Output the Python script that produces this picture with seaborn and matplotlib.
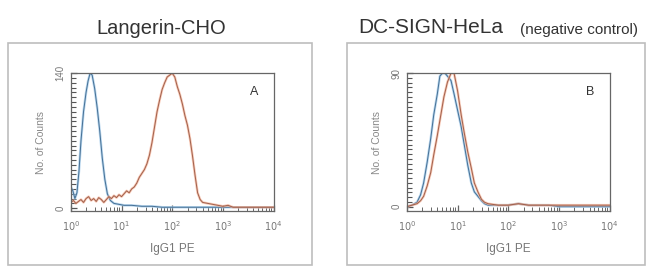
import numpy as np
import pandas as pd
import matplotlib
matplotlib.use("Agg")
import matplotlib.pyplot as plt
import matplotlib.ticker as mticker
from matplotlib.patches import Rectangle
import seaborn as sns

# histogram values, x in log10 decades of IgG1 PE
a_blue_x = [0.0, 0.04, 0.08, 0.12, 0.16, 0.2, 0.25, 0.3, 0.34, 0.38, 0.42, 0.47, 0.52,
            0.57, 0.62, 0.67, 0.72, 0.78, 0.85, 0.95, 1.05, 1.2, 1.4, 1.6, 1.8, 2.0,
            2.5, 3.0, 3.5, 4.0]
a_blue_y = [22, 18, 10, 16, 38, 70, 100, 120, 132, 140, 138, 124, 104,
            80, 52, 30, 15, 8, 5, 4, 3, 3, 2, 2, 1, 1,
            1, 1, 1, 1]
a_red_x = [0.0, 0.05, 0.1, 0.15, 0.2, 0.25, 0.3, 0.35, 0.4, 0.45, 0.5, 0.55, 0.6, 0.65,
           0.7, 0.75, 0.8, 0.85, 0.9, 0.95, 1.0, 1.05, 1.1, 1.15, 1.2, 1.25, 1.3, 1.35,
           1.4, 1.45, 1.5, 1.55, 1.6, 1.65, 1.7, 1.75, 1.8, 1.85, 1.9, 1.95, 2.0, 2.05,
           2.1, 2.15, 2.2, 2.25, 2.3, 2.35, 2.4, 2.45, 2.5, 2.55, 2.6, 2.7, 2.8, 2.9,
           3.0, 3.1, 3.2, 3.4, 3.6, 3.8, 4.0]
a_red_y = [6, 8, 5, 7, 9, 6, 10, 12, 8, 10, 7, 11, 9, 6,
           9, 12, 10, 13, 11, 14, 12, 15, 18, 16, 20, 22, 26, 32,
           36, 40, 46, 55, 68, 84, 100, 112, 123, 130, 136, 138, 140, 136,
           126, 118, 108, 96, 86, 72, 54, 34, 16, 9, 6, 5, 4, 3,
           2, 3, 1, 1, 1, 1, 1]

b_blue_x = [0.0, 0.1, 0.2, 0.27, 0.33, 0.4, 0.47, 0.53, 0.6, 0.65, 0.7, 0.75, 0.8, 0.87,
            0.93, 1.0, 1.07, 1.13, 1.2, 1.27, 1.33, 1.4, 1.47, 1.53, 1.6, 1.8, 2.0, 2.2,
            2.4, 2.6, 2.8, 3.0, 3.5, 4.0]
b_blue_y = [0, 1, 3, 8, 16, 30, 46, 62, 76, 88, 90, 90, 88, 85,
            76, 65, 54, 42, 28, 16, 10, 7, 4, 2, 1, 1, 1, 2,
            1, 1, 1, 0, 0, 0]
b_red_x = [0.0, 0.1, 0.2, 0.27, 0.33, 0.4, 0.47, 0.53, 0.6, 0.67, 0.73, 0.8, 0.87, 0.93,
           1.0, 1.07, 1.13, 1.2, 1.27, 1.33, 1.4, 1.47, 1.53, 1.6, 1.8, 2.0, 2.2, 2.4,
           2.6, 2.8, 3.0, 3.5, 4.0]
b_red_y = [0, 1, 2, 4, 7, 14, 23, 35, 48, 62, 74, 84, 90, 90,
           78, 62, 50, 37, 26, 16, 10, 5, 3, 2, 1, 1, 2, 1,
           1, 1, 1, 1, 1]

panels = [
    {"label": "A", "ymax": 140, "blue": (a_blue_x, a_blue_y), "red": (a_red_x, a_red_y),
     "ax_rect": [0.109, 0.221, 0.312, 0.509], "box": [0.012, 0.022, 0.468, 0.819]},
    {"label": "B", "ymax": 90, "blue": (b_blue_x, b_blue_y), "red": (b_red_x, b_red_y),
     "ax_rect": [0.626, 0.221, 0.312, 0.509], "box": [0.534, 0.022, 0.458, 0.819]},
]

grey = "#666666"
sns.set_style("white", {
    "xtick.bottom": True, "ytick.left": True,
    "xtick.direction": "in", "ytick.direction": "in",
    "xtick.color": grey, "ytick.color": grey,
})
plt.rcParams["font.family"] = ["Liberation Sans", "DejaVu Sans"]
plt.rcParams.update({
    "xtick.major.size": 4, "ytick.major.size": 4,
    "xtick.minor.size": 3, "ytick.minor.size": 3,
    "xtick.minor.width": 0.7, "ytick.minor.width": 0.7,
    "xtick.major.width": 0.9, "ytick.major.width": 0.9,
})

fig = plt.figure(figsize=(6.5, 2.71), dpi=100)

for p in panels:
    fig.add_artist(Rectangle(p["box"][:2], p["box"][2], p["box"][3], transform=fig.transFigure,
                             fill=False, edgecolor="#bdbdbd", linewidth=1.2))
    ax = fig.add_axes(p["ax_rect"])
    for key, halo, core in [("blue", "#9cc6e8", "#456f94"), ("red", "#f5b196", "#a0604c")]:
        xs, ys = p[key]
        df = pd.DataFrame({"x": np.power(10.0, xs), "y": ys})
        sns.lineplot(data=df, x="x", y="y", ax=ax, color=halo, linewidth=1.8, alpha=0.7)
        sns.lineplot(data=df, x="x", y="y", ax=ax, color=core, linewidth=0.7)
    ax.set_xscale("log")
    ax.set_xlim(1, 1e4)
    ax.set_ylim(-3, p["ymax"])
    ax.set_xticks([1, 10, 100, 1000, 10000])
    ax.set_xticklabels([r"$10^{0}$", r"$10^{1}$", r"$10^{2}$", r"$10^{3}$", r"$10^{4}$"])
    ax.xaxis.set_minor_locator(mticker.LogLocator(base=10, subs=np.arange(2, 10), numticks=20))
    ax.xaxis.set_minor_formatter(mticker.NullFormatter())
    ax.set_yticks([0, p["ymax"]])
    ax.yaxis.set_minor_locator(mticker.MultipleLocator(p["ymax"] / 28))
    ax.yaxis.set_minor_formatter(mticker.NullFormatter())
    ax.tick_params(axis="y", which="both", left=True, direction="in", color="#555555")
    ax.tick_params(axis="y", which="minor", length=3.5, width=0.8)
    ax.tick_params(axis="both", which="major", labelsize=7, labelcolor="#777777", pad=4)
    ax.tick_params(axis="x", which="major", pad=6)
    for lab in ax.get_yticklabels():
        lab.set_rotation(90)
        lab.set_va("center")
    for s in ax.spines.values():
        s.set_color(grey)
        s.set_linewidth(0.9)
    ax.set_xlabel("IgG1 PE", fontsize=8.5, color="#777777", labelpad=7)
    ax.set_ylabel("No. of Counts", fontsize=7.5, color="#888888", labelpad=7)
    ax.text(0.905, 0.865, p["label"], transform=ax.transAxes, fontsize=9, color="#333333",
            ha="center", va="center")

fig.text(0.248, 0.893, "Langerin-CHO", fontsize=14.5, color="#333333", ha="center", va="center")
fig.text(0.551, 0.898, "DC-SIGN-HeLa", fontsize=15, color="#333333", ha="left", va="center")
fig.text(0.800, 0.89, "(negative control)", fontsize=11, color="#333333", ha="left", va="center")

fig.savefig("out.png", dpi=100)
